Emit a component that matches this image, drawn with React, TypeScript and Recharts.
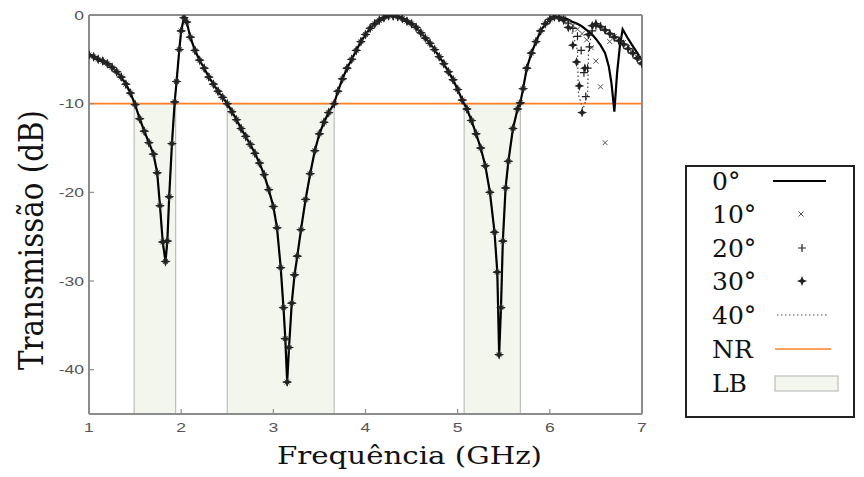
import React from 'react';
import { ComposedChart, Line, XAxis, YAxis, ReferenceLine, ReferenceArea } from 'recharts';

// Shared part of all curves (all incidence angles coincide up to ~6.1 GHz)
const FREQ_BASE = [
  1.00, 1.05, 1.10, 1.15, 1.20, 1.25, 1.30, 1.35, 1.40, 1.45, 1.50, 1.55, 1.60, 1.65, 1.70, 1.74, 1.77, 1.80, 1.83, 1.85,
  1.87, 1.90, 1.93, 1.95, 1.98, 2.00, 2.03, 2.06, 2.10, 2.15, 2.20, 2.25, 2.30, 2.35, 2.40, 2.45, 2.50, 2.55, 2.60, 2.65,
  2.70, 2.75, 2.80, 2.85, 2.90, 2.95, 3.00, 3.04, 3.08, 3.11, 3.13, 3.15, 3.17, 3.20, 3.23, 3.26, 3.30, 3.35, 3.40, 3.45,
  3.50, 3.55, 3.60, 3.66, 3.70, 3.75, 3.80, 3.85, 3.90, 3.95, 4.00, 4.05, 4.10, 4.15, 4.20, 4.25, 4.30, 4.35, 4.40, 4.45,
  4.50, 4.55, 4.60, 4.65, 4.70, 4.75, 4.80, 4.85, 4.90, 4.95, 5.00, 5.05, 5.10, 5.15, 5.20, 5.25, 5.30, 5.35, 5.40, 5.43,
  5.45, 5.47, 5.49, 5.52, 5.55, 5.60, 5.65, 5.68, 5.71, 5.75, 5.80, 5.85, 5.90, 5.95, 6.00, 6.05, 6.10,
];
const DB_BASE = [
  -4.5, -4.7, -5.0, -5.2, -5.5, -5.9, -6.4, -7.0, -7.8, -8.8, -10.1, -11.7, -13.1, -14.4, -15.7, -17.8, -21.5, -25.6, -27.8, -25.5,
  -20.5, -14.5, -9.8, -7.5, -3.9, -1.8, -0.3, -0.8, -2.5, -4.0, -5.1, -6.0, -7.0, -7.8, -8.6, -9.3, -10.0, -10.9, -11.8, -12.8,
  -13.7, -14.6, -15.6, -16.7, -18.0, -19.7, -21.6, -24.0, -28.5, -33.0, -36.5, -41.4, -37.5, -32.5, -29.3, -27.2, -24.2, -20.8, -17.9, -15.3,
  -13.4, -12.1, -11.0, -10.0, -8.6, -7.2, -6.0, -5.0, -4.0, -3.0, -2.2, -1.5, -1.0, -0.6, -0.3, -0.1, -0.1, -0.2, -0.4, -0.7,
  -1.0, -1.4, -2.0, -2.6, -3.2, -3.9, -4.7, -5.5, -6.4, -7.3, -8.4, -9.6, -10.6, -11.9, -13.4, -15.0, -17.0, -20.0, -24.5, -29.0,
  -38.3, -33.0, -25.5, -19.5, -16.5, -12.8, -10.6, -9.9, -8.3, -6.0, -4.3, -3.0, -1.8, -1.0, -0.5, -0.2, -0.3,
];

// 0°
const FREQ_0_TAIL = [6.15, 6.20, 6.25, 6.30, 6.35, 6.40, 6.45, 6.50, 6.55, 6.60, 6.64, 6.67, 6.70, 6.73, 6.76, 6.79, 6.85, 6.90, 6.95, 7.00];
const DB_0_TAIL = [-0.3, -0.5, -0.8, -1.0, -1.3, -1.7, -2.1, -2.7, -3.4, -4.3, -5.8, -7.8, -10.9, -6.5, -3.5, -1.6, -2.7, -3.5, -4.3, -5.1];
// 10°
const FREQ_10_TAIL = [6.15, 6.20, 6.25, 6.30, 6.35, 6.40, 6.45, 6.50, 6.55, 6.60, 6.65, 6.70, 6.75, 6.80, 6.85, 6.90, 6.95, 7.00];
const DB_10_TAIL = [-0.4, -0.8, -1.2, -1.6, -2.1, -2.8, -3.7, -5.2, -8.1, -14.4, -3.0, -2.4, -2.7, -3.1, -3.6, -4.2, -4.8, -5.4];
// 20°
const FREQ_20_TAIL = [6.15, 6.20, 6.25, 6.30, 6.34, 6.37, 6.39, 6.41, 6.43, 6.46, 6.50, 6.55, 6.60, 6.65, 6.70, 6.75, 6.80, 6.85, 6.90, 6.95, 7.00];
const DB_20_TAIL = [-0.5, -0.9, -1.5, -2.4, -4.0, -6.5, -9.2, -6.0, -3.6, -1.8, -1.2, -1.3, -1.7, -2.1, -2.5, -2.9, -3.3, -3.8, -4.3, -4.8, -5.4];
// 30°
const FREQ_30_TAIL = [6.15, 6.20, 6.25, 6.29, 6.32, 6.35, 6.38, 6.42, 6.46, 6.50, 6.55, 6.60, 6.65, 6.70, 6.75, 6.80, 6.85, 6.90, 6.95, 7.00];
const DB_30_TAIL = [-0.6, -1.4, -3.4, -5.3, -8.0, -11.0, -6.0, -2.2, -1.2, -1.0, -1.3, -1.7, -2.1, -2.5, -2.9, -3.3, -3.8, -4.3, -4.9, -5.5];
// 40°
const FREQ_40_TAIL = [6.15, 6.20, 6.25, 6.30, 6.31, 6.36, 6.41, 6.42, 6.46, 6.50, 6.55, 6.60, 6.65, 6.70, 6.75, 6.80, 6.85, 6.90, 6.95, 7.00];
const DB_40_TAIL = [-0.6, -1.2, -2.2, -4.0, -9.0, -10.6, -9.0, -4.0, -1.6, -1.1, -1.3, -1.7, -2.1, -2.5, -2.9, -3.3, -3.8, -4.3, -4.9, -5.5];

// Bands (LB) and reference level (NR)
const LB_START = [1.49, 2.50, 5.07];
const LB_END = [1.94, 3.66, 5.68];
const NR_LEVEL = -10;
const Y_MIN = -45;

const X_TICKS = [1, 2, 3, 4, 5, 6, 7];
const Y_TICKS = [-40, -30, -20, -10, 0];
const LEGEND_LABELS = ['0°', '10°', '20°', '30°', '40°', 'NR', 'LB'];

type Pt = { f: number; v: number };
const zip = (fs: number[], vs: number[]): Pt[] => fs.map((f, i) => ({ f, v: vs[i] }));

const s0 = zip([...FREQ_BASE, ...FREQ_0_TAIL], [...DB_BASE, ...DB_0_TAIL]);
const s10 = zip([...FREQ_BASE, ...FREQ_10_TAIL], [...DB_BASE, ...DB_10_TAIL]);
const s20 = zip([...FREQ_BASE, ...FREQ_20_TAIL], [...DB_BASE, ...DB_20_TAIL]);
const s30 = zip([...FREQ_BASE, ...FREQ_30_TAIL], [...DB_BASE, ...DB_30_TAIL]);
const s40 = zip([...FREQ_BASE, ...FREQ_40_TAIL], [...DB_BASE, ...DB_40_TAIL]);

const AXIS = '#8c8c8c';
const ORANGE = '#ff7f27';
const BAND_FILL = '#f3f6ec';
const BAND_EDGE = '#bdbdbd';

const xPath = (cx: number, cy: number, r: number) =>
  `M${cx - r},${cy - r}L${cx + r},${cy + r}M${cx - r},${cy + r}L${cx + r},${cy - r}`;
const plusPath = (cx: number, cy: number, r: number) => `M${cx - r},${cy}L${cx + r},${cy}M${cx},${cy - r}L${cx},${cy + r}`;
const starPath = (cx: number, cy: number, R: number, r: number) =>
  `M${cx},${cy - R}L${cx + r},${cy - r}L${cx + R},${cy}L${cx + r},${cy + r}L${cx},${cy + R}L${cx - r},${cy + r}L${cx - R},${cy}L${cx - r},${cy - r}Z`;

const XMark = (p: any) => {
  if (p.cx == null || p.cy == null) return <g key={p.key} />;
  return <path key={p.key} d={xPath(p.cx, p.cy, 2.5)} stroke="#555" strokeWidth={1} fill="none" />;
};
const PlusMark = (p: any) => {
  if (p.cx == null || p.cy == null) return <g key={p.key} />;
  return <path key={p.key} d={plusPath(p.cx, p.cy, 4)} stroke="#222" strokeWidth={1.2} fill="none" />;
};
const StarMark = (p: any) => {
  if (p.cx == null || p.cy == null) return <g key={p.key} />;
  return <path key={p.key} d={starPath(p.cx, p.cy, 5, 1.4)} fill="#222" stroke="none" />;
};

const SANS = 'Liberation Sans';
const SERIF = 'DejaVu Serif';

const XTick = (p: any) => (
  <text
    transform={`translate(${p.x},${p.y}) scale(1.35,1)`}
    x={0}
    y={0}
    textAnchor="middle"
    fontFamily={SANS}
    fontSize={13}
    fill="#555"
  >
    {p.payload.value}
  </text>
);
const YTick = (p: any) => (
  <text
    transform={`translate(${p.x},${p.y + 4.5}) scale(1.35,1)`}
    x={0}
    y={0}
    textAnchor="end"
    fontFamily={SANS}
    fontSize={13}
    fill="#555"
  >
    {p.payload.value}
  </text>
);

export default function App() {
  const rows = [173, 206, 240, 273, 307, 341, 375];
  return (
    <div style={{ position: 'relative', width: 848, height: 461 }}>
      <ComposedChart width={848} height={461} margin={{ top: 6, right: 213, bottom: 25, left: 0 }}>
        <XAxis
          xAxisId="b"
          dataKey="f"
          type="number"
          domain={[1, 7]}
          ticks={X_TICKS}
          interval={0}
          allowDataOverflow
          height={30}
          axisLine={{ stroke: AXIS, strokeWidth: 2 }}
          tickLine={{ stroke: AXIS, strokeWidth: 1.2 }}
          tickSize={-5}
          tickMargin={23}
          tick={XTick}
        />
        <XAxis
          xAxisId="t"
          orientation="top"
          type="number"
          domain={[1, 7]}
          ticks={X_TICKS}
          interval={0}
          allowDataOverflow
          height={1}
          axisLine={{ stroke: AXIS, strokeWidth: 2 }}
          tickLine={{ stroke: AXIS, strokeWidth: 1.2 }}
          tickSize={-5}
          tick={false}
        />
        <YAxis
          yAxisId="l"
          dataKey="v"
          type="number"
          domain={[Y_MIN, 0]}
          ticks={Y_TICKS}
          interval={0}
          allowDataOverflow
          width={81}
          axisLine={{ stroke: AXIS, strokeWidth: 2 }}
          tickLine={{ stroke: AXIS, strokeWidth: 1.2 }}
          tickSize={-5}
          tickMargin={10}
          tick={YTick}
        />
        <YAxis
          yAxisId="r"
          orientation="right"
          type="number"
          domain={[Y_MIN, 0]}
          ticks={Y_TICKS}
          interval={0}
          allowDataOverflow
          width={1}
          axisLine={{ stroke: AXIS, strokeWidth: 2 }}
          tickLine={{ stroke: AXIS, strokeWidth: 1.2 }}
          tickSize={-5}
          tick={false}
        />
        {LB_START.map((x1, i) => (
          <ReferenceArea
            key={'lb' + i}
            xAxisId="b"
            yAxisId="l"
            x1={x1}
            x2={LB_END[i]}
            y1={Y_MIN}
            y2={NR_LEVEL}
            fill={BAND_FILL}
            fillOpacity={1}
            stroke={BAND_EDGE}
            strokeWidth={1.2}
          />
        ))}
        <ReferenceLine xAxisId="b" yAxisId="l" y={NR_LEVEL} stroke={ORANGE} strokeWidth={1.6} />
        <Line
          xAxisId="b"
          yAxisId="l"
          data={s40}
          dataKey="v"
          type="linear"
          stroke="#444"
          strokeWidth={1.2}
          strokeDasharray="1.5 2.5"
          dot={false}
          activeDot={false}
          isAnimationActive={false}
        />
        <Line
          xAxisId="b"
          yAxisId="l"
          data={s0}
          dataKey="v"
          type="linear"
          stroke="#000"
          strokeWidth={2.2}
          dot={false}
          activeDot={false}
          isAnimationActive={false}
        />
        <Line xAxisId="b" yAxisId="l" data={s10} dataKey="v" stroke="none" dot={XMark} activeDot={false} isAnimationActive={false} />
        <Line xAxisId="b" yAxisId="l" data={s20} dataKey="v" stroke="none" dot={PlusMark} activeDot={false} isAnimationActive={false} />
        <Line xAxisId="b" yAxisId="l" data={s30} dataKey="v" stroke="none" dot={StarMark} activeDot={false} isAnimationActive={false} />
      </ComposedChart>
      <svg
        width={848}
        height={466}
        style={{ position: 'absolute', left: 0, top: 0, pointerEvents: 'none', overflow: 'visible' }}
      >
        <text
          transform="translate(35,232) rotate(-90)"
          x={0}
          y={0}
          textAnchor="middle"
          textLength={260}
          lengthAdjust="spacingAndGlyphs"
          fontFamily={SERIF}
          fontSize={33}
          fill="#111"
        >
          Transmissão (dB)
        </text>
        <text
          x={269}
          y={456}
          textLength={265}
          lengthAdjust="spacingAndGlyphs"
          fontFamily={SERIF}
          fontSize={25}
          fill="#111"
        >
          Frequência (GHz)
        </text>
        <rect x={678} y={158} width={168} height={251} fill="#fff" stroke="#222" strokeWidth={2} />
        {LEGEND_LABELS.map((lab, i) => (
          <text key={lab} x={704} y={rows[i] + 9} fontFamily={SERIF} fontSize={25} fill="#111">
            {lab}
          </text>
        ))}
        <line x1={765} x2={818} y1={rows[0]} y2={rows[0]} stroke="#000" strokeWidth={2} />
        <path d={xPath(793, rows[1], 2.5)} stroke="#555" strokeWidth={1} fill="none" />
        <path d={plusPath(794, rows[2], 4)} stroke="#222" strokeWidth={1.2} fill="none" />
        <path d={starPath(794, rows[3], 5, 1.4)} fill="#222" />
        <line x1={769} x2={820} y1={rows[4]} y2={rows[4]} stroke="#444" strokeWidth={1.2} strokeDasharray="1.5 2.5" />
        <line x1={767} x2={823} y1={rows[5]} y2={rows[5]} stroke={ORANGE} strokeWidth={1.6} />
        <rect x={767} y={rows[6] - 7} width={63} height={15} fill={BAND_FILL} stroke={BAND_EDGE} strokeWidth={1.2} />
      </svg>
    </div>
  );
}
